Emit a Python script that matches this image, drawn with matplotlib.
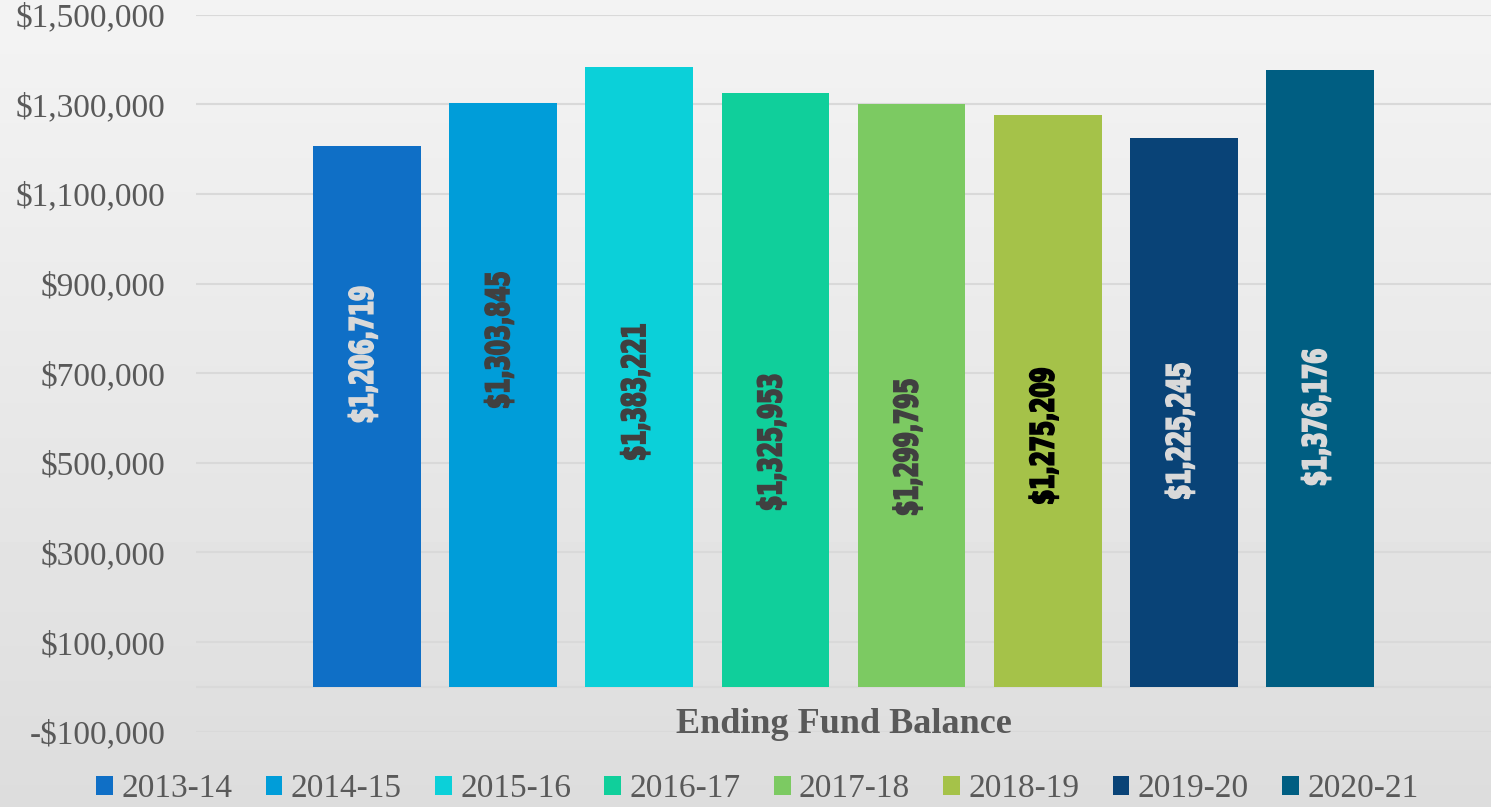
import numpy as np
import matplotlib
matplotlib.use("Agg")
import matplotlib.pyplot as plt
import matplotlib.transforms as mtransforms
from matplotlib.patches import Patch, PathPatch
from matplotlib.textpath import TextPath
from matplotlib.font_manager import FontProperties

# data
category = "Ending Fund Balance"
years = ["2013-14", "2014-15", "2015-16", "2016-17",
         "2017-18", "2018-19", "2019-20", "2020-21"]
balances = [1206719, 1303845, 1383221, 1325953,
            1299795, 1275209, 1225245, 1376176]

bar_colors = ["#0F6FC6", "#009DD9", "#0BD0D9", "#10CF9B",
              "#7CCA62", "#A5C249", "#094377", "#005E82"]
label_colors = ["#D9D9D9", "#404040", "#404040", "#404040",
                "#404040", "#000000", "#D9D9D9", "#D9D9D9"]
# where each value label sits (roughly as placed in the original)
label_y = [742000, 774000, 658000, 546000, 535000, 560000, 571000, 602000]

serif = ["Liberation Serif", "DejaVu Serif"]
grey = "#595959"

fig = plt.figure(figsize=(14.91, 8.07), dpi=100)

# light grey backdrop, lighter at the top
bg = fig.add_axes([0, 0, 1, 1], zorder=0)
grad = np.linspace(0.955, 0.865, 256).reshape(-1, 1)
bg.imshow(grad, cmap="gray", vmin=0, vmax=1, aspect="auto",
          extent=[0, 1, 0, 1])
bg.axis("off")

ax = fig.add_axes([0.1315, 0.0933, 0.8685, 0.8885], zorder=1)
ax.patch.set_alpha(0)

x = np.arange(len(years))
ax.bar(x, balances, width=0.79, color=bar_colors, zorder=3)

# value labels: squeezed bold text (no condensed font here), turned 90 deg
fp = FontProperties(family="DejaVu Sans", weight="bold")
ref = TextPath((0, 0), "$1,325,953", size=1, prop=fp).get_extents()
sx = 134 / ref.width   # length in px
sy = 29 / ref.height   # thickness in px
for xi, yv, v, c in zip(x, label_y, balances, label_colors):
    tp = TextPath((0, 0), f"${v:,}", size=1, prop=fp)
    bb = tp.get_extents()
    tr = (mtransforms.Affine2D()
          .translate(-(bb.x0 + bb.x1) / 2, -(bb.y0 + bb.y1) / 2)
          .scale(sx, sy).rotate_deg(90)
          + mtransforms.ScaledTranslation(xi - 0.03, yv, ax.transData))
    ax.add_patch(PathPatch(tp, transform=tr, facecolor=c, edgecolor=c,
                           linewidth=1.4, zorder=4))

ax.set_xlim(-1.255, 8.255)
ax.set_ylim(-100000, 1500000)
ticks = np.arange(-100000, 1500001, 200000)
ax.set_yticks(ticks)
ax.set_yticklabels([f"${t:,}" if t >= 0 else f"-${-t:,}" for t in ticks],
                   family=serif, fontsize=24, color=grey)
ax.tick_params(axis="y", length=0, pad=22)
ax.set_xticks([])
ax.grid(axis="y", color="#D9D9D9", linewidth=1.5, zorder=0)
ax.axhline(0, color="#D9D9D9", linewidth=1.5, zorder=1)
for s in ax.spines.values():
    s.set_visible(False)

ax.text(3.5, -83000, category, ha="center", va="center", family=serif,
        fontsize=26, fontweight="bold", color=grey)

handles = [Patch(facecolor=c) for c in bar_colors]
fig.legend(handles, years, loc="center", bbox_to_anchor=(0.508, 0.022),
           ncol=8, frameon=False, handlelength=0.5, handleheight=0.5,
           handletextpad=0.25, columnspacing=1.0,
           prop={"family": serif, "size": 24}, labelcolor=grey)

fig.savefig("out.png", dpi=100)
